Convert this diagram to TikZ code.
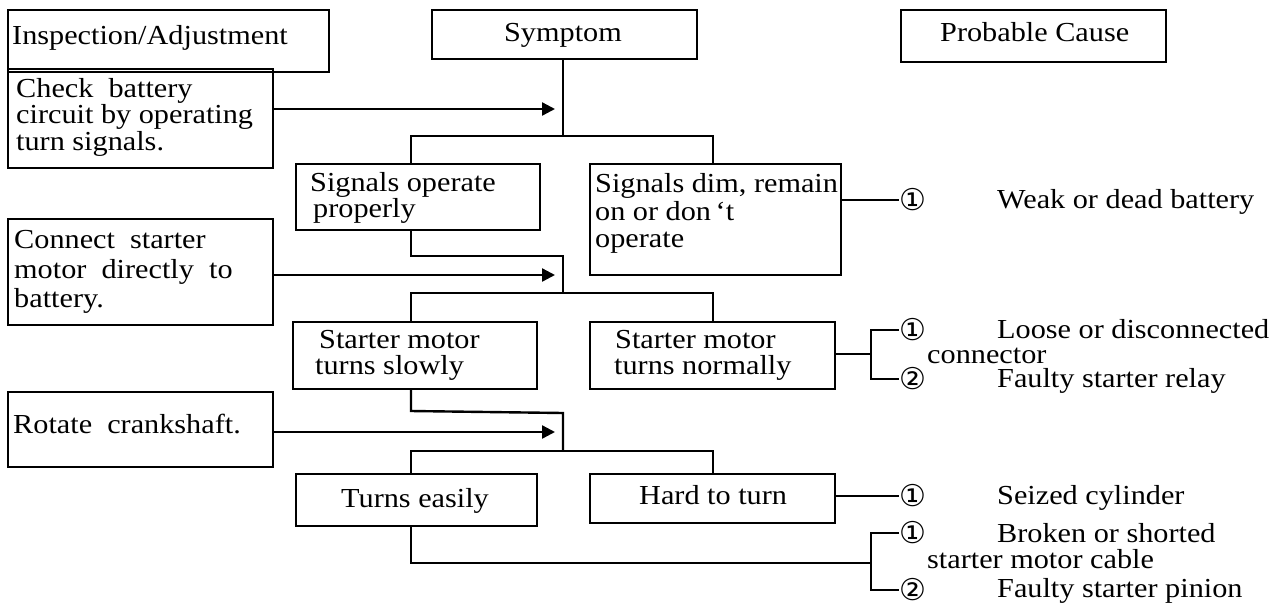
\documentclass[tikz,border=0pt]{standalone}
\usepackage{fontspec}
\setmainfont{Liberation Serif}[FakeStretch=1.1]
\newfontfamily\circfont{DejaVu Sans}
\usetikzlibrary{arrows.meta}
\tikzset{
  box/.style={draw, line width=2.4pt, inner sep=0pt, outer sep=0pt, anchor=north west},
  txt/.style={inner sep=0pt, anchor=base west, font=\fontsize{27.5}{28}\selectfont},
  circ/.style={inner sep=0pt, outer sep=0pt, anchor=west, font=\circfont\fontsize{30}{30}\selectfont},
  conn/.style={line width=2.4pt},
  arr/.style={line width=2.4pt, -{Triangle[length=13pt,width=13pt]}},
}
\begin{document}
\begin{tikzpicture}[x=1pt, y=-1pt]
\useasboundingbox (0,0) rectangle (1286,606);
% boxes
\node[box, minimum width=321pt, minimum height=62pt] (insp) at (8,10) {};
\node[box, minimum width=265pt, minimum height=49pt] (sym) at (432,10) {};
\node[box, minimum width=265pt, minimum height=52pt] (pc) at (901,10) {};
\node[box, minimum width=265pt, minimum height=99pt] (chk) at (8,69) {};
\node[box, minimum width=244pt, minimum height=66pt] (sop) at (296,164) {};
\node[box, minimum width=251pt, minimum height=111pt] (sdim) at (590,164) {};
\node[box, minimum width=265pt, minimum height=106pt] (con) at (8,219) {};
\node[box, minimum width=244pt, minimum height=67pt] (sms) at (293,322) {};
\node[box, minimum width=245pt, minimum height=67pt] (smn) at (590,322) {};
\node[box, minimum width=265pt, minimum height=75pt] (rot) at (8,392) {};
\node[box, minimum width=241pt, minimum height=52pt] (te) at (296,474) {};
\node[box, minimum width=245pt, minimum height=49pt] (htt) at (590,474) {};
% header texts
\node[txt] (tinsp) at (12,44) {Inspection/Adjustment};
\node[txt, anchor=base] (tsym) at (563,41) {Symptom};
\node[txt] (tpc) at (940,41) {Probable Cause};
% inspection texts
\node[txt] (tchk1) at (16,97) {Check\ \ battery};
\node[txt] (tchk2) at (16,123) {circuit\ by\ operating};
\node[txt] (tchk3) at (16,150) {turn\ signals.};
\node[txt] (tcon1) at (14,248) {Connect\ \ starter};
\node[txt] (tcon2) at (14,278) {motor\ \ directly\ \ to};
\node[txt] (tcon3) at (14,307) {battery.};
\node[txt] (trot) at (13,433) {Rotate\ \ crankshaft.};
% symptom texts
\node[txt] (tsop1) at (310,191) {Signals operate};
\node[txt] (tsop2) at (313,217) {properly};
\node[txt] (tsd1) at (595,192) {Signals dim, remain};
\node[txt] (tsd2) at (595,220) {on or don\,{\char"2018}t};
\node[txt] (tsd3) at (595,247) {operate};
\node[txt] (tsms1) at (319,348) {Starter\ motor};
\node[txt] (tsms2) at (315,374) {turns\ slowly};
\node[txt] (tsmn1) at (615,348) {Starter\ motor};
\node[txt] (tsmn2) at (614,374) {turns\ normally};
\node[txt] (tte) at (341,507) {Turns\ easily};
\node[txt] (thtt) at (639,504) {Hard\ to\ turn};
% circled numbers
\node[circ] (c1) at (899,200) {①};
\node[circ] (c2) at (899,330) {①};
\node[circ] (c3) at (899,379) {②};
\node[circ] (c4) at (899,496) {①};
\node[circ] (c5) at (899,533) {①};
\node[circ] (c6) at (899,590) {②};
% causes
\node[txt] (p1) at (997,208) {Weak or dead battery};
\node[txt] (p2) at (997,338) {Loose\ or\ disconnected};
\node[txt] (p2b) at (927,363) {connector};
\node[txt] (p3) at (997,387) {Faulty\ starter\ relay};
\node[txt] (p4) at (997,504) {Seized cylinder};
\node[txt] (p5) at (997,542) {Broken\ or\ shorted};
\node[txt] (p5b) at (927,568) {starter\ motor\ cable};
\node[txt] (p6) at (997,597) {Faulty\ starter\ pinion};
% junction coordinates
\coordinate (j1) at (563,136);
\coordinate (a1) at (555,109);
\coordinate (k1) at (563,256);
\coordinate (j2) at (563,293);
\coordinate (a2) at (555,275);
\coordinate (k2) at (563,413);
\coordinate (j3) at (563,451);
\coordinate (a3) at (555,432);
\coordinate (b1) at (871,330);
\coordinate (b2) at (871,379);
\coordinate (b3) at (871,533);
\coordinate (b4) at (871,590);
% level 1
\draw[conn] (sym.south -| j1) -- (j1);
\draw[conn] (sop.north -| 411,0) -- (411,136) -- (713,136) -- (sdim.north -| 713,0);
\draw[arr] (a1 -| chk.east) -- (a1);
% level 2
\draw[conn] (sop.south -| 411,0) -- (411,256) -- (k1) -- (j2);
\draw[conn] (sms.north -| 411,0) -- (411,293) -- (713,293) -- (smn.north -| 713,0);
\draw[arr] (a2 -| con.east) -- (a2);
% level 3
\draw[conn] (sms.south -| 411,0) -- (411,411) -- (k2) -- (j3);
\draw[conn] (te.north -| 411,0) -- (411,451) -- (713,451) -- (htt.north -| 713,0);
\draw[arr] (a3 -| rot.east) -- (a3);
% causes connectors
\draw[conn] (c1.west -| sdim.east) -- (c1.west);
\draw[conn] (smn.east |- 0,354) -- (871,354);
\draw[conn] (c2.west) -- (b1) -- (b2) -- (c3.west);
\draw[conn] (c4.west -| htt.east) -- (c4.west);
\draw[conn] (te.south -| 411,0) -- (411,563) -- (871,563);
\draw[conn] (c5.west) -- (b3) -- (b4) -- (c6.west);
\end{tikzpicture}
\end{document}
